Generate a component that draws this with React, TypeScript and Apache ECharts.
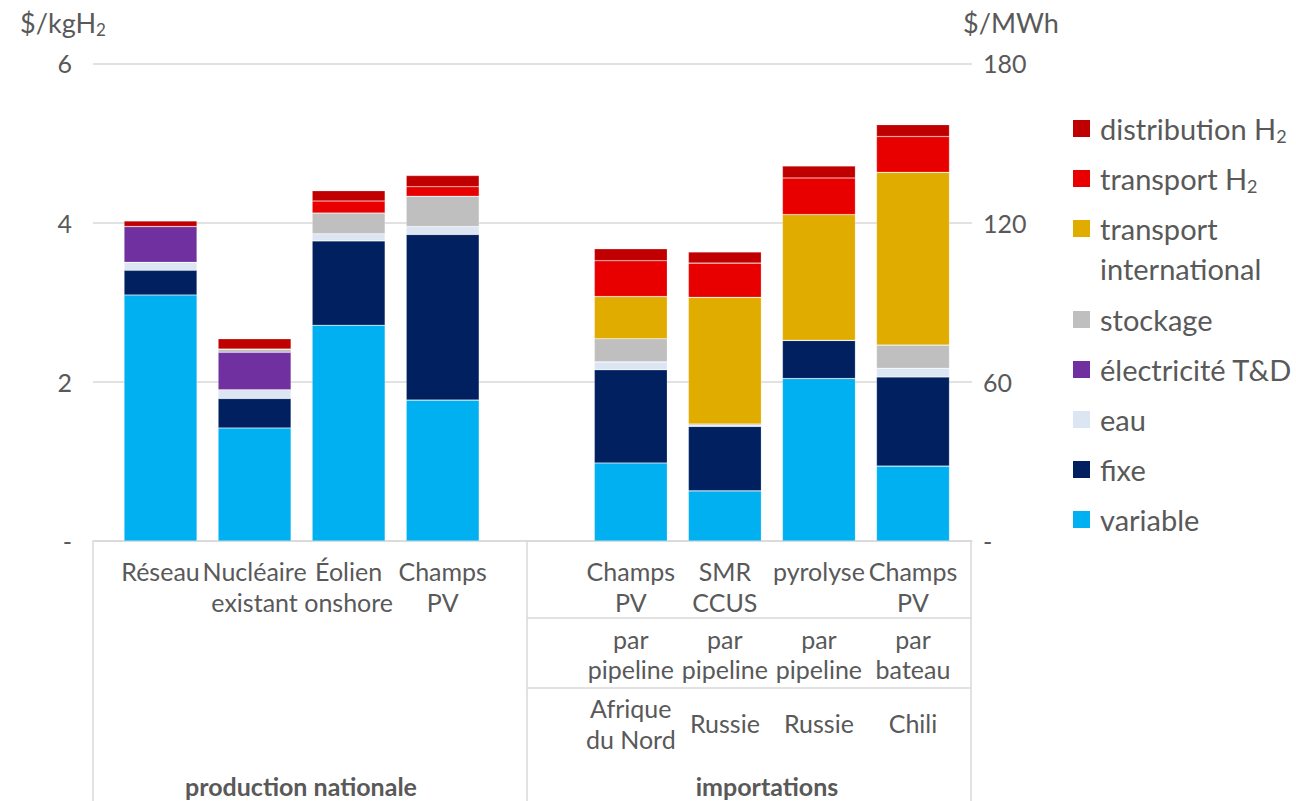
import React, { useEffect, useRef } from "react";
import * as echarts from "echarts";

// ---- data ----
const categories = ["Réseau", "Nucléaire\nexistant", "Éolien\nonshore", "Champs\nPV", "", "Champs\nPV", "SMR\nCCUS", "pyrolyse", "Champs\nPV"];
const transportModes = ["", "", "", "", "", "par\npipeline", "par\npipeline", "par\npipeline", "par\nbateau"];
const origins = ["", "", "", "", "", "Afrique\ndu Nord", "Russie", "Russie", "Chili"];
const groups = ["production nationale", "importations"];

const variable = [3.09, 1.42, 2.71, 1.77, null, 0.98, 0.63, 2.04, 0.94];
const fixe = [0.31, 0.37, 1.06, 2.08, null, 1.17, 0.81, 0.48, 1.12];
const eau = [0.10, 0.11, 0.09, 0.10, null, 0.10, 0.01, 0, 0.11];
const electricite = [0.45, 0.47, 0, 0, null, 0, 0, 0, 0];
const stockage = [0, 0.04, 0.26, 0.38, null, 0.29, 0.02, 0, 0.29];
const transportIntl = [0, 0, 0, 0, null, 0.53, 1.59, 1.58, 2.17];
const transportH2 = [0, 0, 0.15, 0.12, null, 0.45, 0.43, 0.46, 0.45];
const distribution = [0.07, 0.13, 0.13, 0.14, null, 0.15, 0.14, 0.15, 0.15];

const seriesNames = ["variable", "fixe", "eau", "électricité T&D", "stockage", "transport international", "transport H2", "distribution H2"];
const seriesData = [variable, fixe, eau, electricite, stockage, transportIntl, transportH2, distribution];

const leftAxis = { min: 0, max: 6, interval: 2, name: "$/kgH2" };
const rightAxis = { min: 0, max: 180, interval: 60, name: "$/MWh" };

// ---- styles ----
const palette = ["#00B0F0", "#002060", "#DCE6F2", "#7030A0", "#BFBFBF", "#E1AC00", "#E80000", "#C00000"];
const TEXT = "#595959";
const GRID = "#D9D9D9";
const FONT = "Lato";

const sub = (s: string) => s.replace("H2", "H{sub|2}");

export default function App() {
  const ref = useRef<HTMLDivElement>(null);
  useEffect(() => {
    if (!ref.current) return;
    const chart = echarts.init(ref.current, undefined, { renderer: "svg" });

    const catLabel = { interval: 0, color: TEXT, fontSize: 25, lineHeight: 31, fontFamily: FONT };

    // legend drawn top-to-bottom in reverse stack order
    const legendItems: any[] = [];
    let y = 128.5;
    for (let k = seriesNames.length - 1; k >= 0; k--) {
      const name = seriesNames[k];
      const lines = name === "transport international" ? ["transport", "international"] : [name];
      legendItems.push({
        type: "rect",
        shape: { x: 1073, y: y - 8.5, width: 17, height: 17 },
        style: { fill: palette[k] },
      });
      legendItems.push({
        type: "text",
        x: 1100,
        y: y - 20,
        style: {
          text: lines.map(sub).join("\n"),
          fill: TEXT,
          fontSize: 29,
          fontFamily: FONT,
          lineHeight: 40,
          verticalAlign: "top",
          align: "left",
          rich: { sub: { fontSize: 18, lineHeight: 40, padding: [15, 0, 0, 0], fill: TEXT, fontFamily: FONT } },
        },
      });
      y += 50 + (lines.length - 1) * 41;
    }

    const frame = { stroke: GRID, lineWidth: 1.5 };
    const groupStyle = { fill: TEXT, fontSize: 25, fontWeight: "bold", fontFamily: FONT, align: "center", verticalAlign: "middle" };
    const graphics: any[] = [
      { type: "line", shape: { x1: 93, y1: 541, x2: 93, y2: 801 }, style: frame },
      { type: "line", shape: { x1: 527, y1: 541, x2: 527, y2: 801 }, style: frame },
      { type: "line", shape: { x1: 971, y1: 541, x2: 971, y2: 801 }, style: frame },
      { type: "line", shape: { x1: 527, y1: 618, x2: 971, y2: 618 }, style: frame },
      { type: "line", shape: { x1: 527, y1: 688, x2: 971, y2: 688 }, style: frame },
      { type: "text", x: 301, y: 786, style: { ...groupStyle, text: groups[0] } },
      { type: "text", x: 767, y: 786, style: { ...groupStyle, text: groups[1] } },
      ...legendItems,
    ];

    const tickFmt = (v: number) => (v === 0 ? "-" : String(v));
    const hiddenLine = { show: false };

    chart.setOption({
      animation: false,
      textStyle: { fontFamily: FONT },
      grid: [
        { left: 113.5, right: 336, top: 63.3, bottom: 260, outerBoundsMode: "none", containLabel: false },
        { left: 93, right: 324, top: 63.3, bottom: 260, outerBoundsMode: "none", containLabel: false },
      ],
      xAxis: [
        { type: "category", gridIndex: 0, position: "bottom", data: categories, axisLine: hiddenLine, axisTick: hiddenLine, axisLabel: { ...catLabel, margin: 14 } },
        { type: "category", gridIndex: 0, position: "bottom", data: transportModes, offset: 70, axisLine: hiddenLine, axisTick: hiddenLine, axisLabel: { ...catLabel, lineHeight: 30, margin: 13 } },
        { type: "category", gridIndex: 0, position: "bottom", data: origins, offset: 170, axisLine: hiddenLine, axisTick: hiddenLine, axisLabel: { ...catLabel, margin: 12, verticalAlign: "middle" } },
        { type: "value", gridIndex: 1, position: "bottom", min: 0, max: 1, axisLine: { show: true, lineStyle: { color: GRID, width: 1.5 } }, axisTick: hiddenLine, axisLabel: hiddenLine, splitLine: hiddenLine },
      ],
      yAxis: [
        {
          type: "value", gridIndex: 1, position: "left", min: leftAxis.min, max: leftAxis.max, interval: leftAxis.interval,
          name: sub(leftAxis.name), nameLocation: "end", nameGap: 26,
          nameTextStyle: { color: TEXT, fontSize: 27, fontFamily: FONT, align: "center", padding: [0, 60, 0, 0], lineHeight: 30, rich: { sub: { fontSize: 17, padding: [14, 0, 0, 0], fontFamily: FONT, color: TEXT } } },
          axisLine: hiddenLine, axisTick: hiddenLine,
          axisLabel: { color: TEXT, fontSize: 25, fontFamily: FONT, margin: 21, formatter: tickFmt },
          splitLine: { show: true, lineStyle: { color: GRID, width: 1.5 } },
        },
        {
          type: "value", gridIndex: 1, position: "right", min: rightAxis.min, max: rightAxis.max, interval: rightAxis.interval,
          name: rightAxis.name, nameLocation: "end", nameGap: 26,
          nameTextStyle: { color: TEXT, fontSize: 27, fontFamily: FONT, align: "center", padding: [0, 0, 0, 78], lineHeight: 30 },
          axisLine: hiddenLine, axisTick: hiddenLine,
          axisLabel: { color: TEXT, fontSize: 25, fontFamily: FONT, margin: 11, formatter: tickFmt },
          splitLine: hiddenLine,
        },
        { type: "value", gridIndex: 0, min: leftAxis.min, max: leftAxis.max, show: false },
      ],
      series: seriesNames.map((name, i) => ({
        name,
        type: "bar",
        stack: "total",
        xAxisIndex: 0,
        yAxisIndex: 2,
        barWidth: 73,
        data: seriesData[i],
        itemStyle: { color: palette[i], borderColor: "rgba(255,255,255,0.35)", borderWidth: 0.6 },
      })),
      graphic: graphics,
    });
    return () => chart.dispose();
  }, []);
  return <div ref={ref} style={{ position: "fixed", left: 0, top: 0, width: 1296, height: 801, background: "#fff" }} />;
}
